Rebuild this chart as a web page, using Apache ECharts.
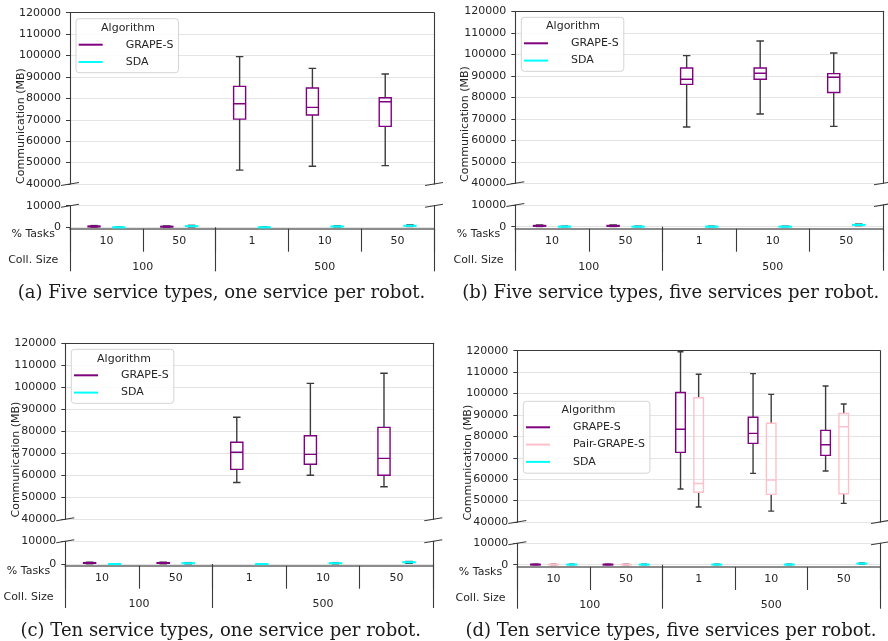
<!DOCTYPE html>
<html><head><meta charset="utf-8">
<script src="https://cdn.jsdelivr.net/npm/echarts@6/dist/echarts.min.js"></script>
<style>html,body{margin:0;padding:0;background:#fff}#c{width:888px;height:641px}</style>
</head><body><div id="c"></div><script>
// ---------- data ----------
const innerCategories = ['10', '50', '1', '10', '50'];   // % Tasks
const outerGroups = ['100', '500'];                      // Coll. Size
const outerSpans = [2, 3];
const topAxis = { min: 40000, max: 120000, interval: 10000 };
const bottomAxis = { min: 0, max: 10000, interval: 10000 };
const algorithmColors = { 'GRAPE-S': '#800080', 'Pair-GRAPE-S': '#ffc0cb', 'SDA': '#00ffff' };
const captions = [
  '(a) Five service types, one service per robot.',
  '(b) Five service types, five services per robot.',
  '(c) Ten service types, one service per robot.',
  '(d) Ten service types, five services per robot.'
];
// each box: [min, q1, median, q3, max]
const a_GRAPE_S = [[100, 250, 400, 550, 800], [100, 200, 300, 450, 650], [46500, 70300, 77500, 85600, 99500], [48300, 72200, 75800, 84800, 94000], [48600, 66900, 78400, 80300, 91400]];
const a_SDA = [[0, 30, 60, 100, 150], [200, 400, 500, 650, 900], [0, 30, 60, 100, 150], [200, 300, 400, 500, 650], [400, 600, 700, 850, 1100]];
const b_GRAPE_S = [[100, 250, 400, 550, 800], [100, 250, 400, 550, 800], [66200, 86000, 88400, 93600, 99400], [72200, 88400, 91200, 93600, 106200], [66500, 82200, 89300, 91000, 100600]];
const b_SDA = [[0, 50, 100, 150, 250], [0, 50, 100, 150, 250], [0, 50, 100, 150, 250], [0, 50, 100, 150, 250], [500, 700, 850, 1000, 1200]];
const c_GRAPE_S = [[100, 300, 450, 600, 800], [100, 300, 450, 600, 800], [56700, 62700, 70500, 75000, 86400], [60000, 65000, 69500, 78000, 101800], [54800, 60000, 67700, 81800, 106400]];
const c_SDA = [[0, 20, 50, 80, 120], [100, 250, 350, 450, 600], [0, 20, 50, 80, 120], [100, 250, 350, 450, 600], [300, 600, 750, 900, 1100]];
const d_GRAPE_S = [[0, 60, 120, 180, 250], [0, 60, 120, 180, 250], [55400, 72500, 83300, 100500, 119500], [62700, 76700, 81400, 88900, 109300], [63800, 71100, 76100, 82800, 103500]];
const d_PAIR_GRAPE_S = [[0, 60, 120, 180, 250], [0, 60, 120, 180, 250], [47000, 53900, 58000, 98000, 109000], [45100, 52900, 59600, 86100, 99600], [48700, 53200, 84500, 90700, 95100]];
const d_SDA = [[0, 60, 120, 180, 250], [0, 60, 120, 180, 250], [0, 60, 120, 180, 250], [0, 60, 120, 180, 250], [300, 450, 550, 650, 800]];

const panelSeries = [
  [['GRAPE-S', a_GRAPE_S], ['SDA', a_SDA]],
  [['GRAPE-S', b_GRAPE_S], ['SDA', b_SDA]],
  [['GRAPE-S', c_GRAPE_S], ['SDA', c_SDA]],
  [['GRAPE-S', d_GRAPE_S], ['Pair-GRAPE-S', d_PAIR_GRAPE_S], ['SDA', d_SDA]]
];

// ---------- layout (pixels) ----------
const panelLayouts = [
  { l: 70, r: 434, t: 12.7, tb: 184, bt: 205.7, z: 227.3, ax: 228.7, legend: [76, 18.7], legTitle: [128, 27.7], ylab: [20.7, 126], cap: [221.5, 293] },
  { l: 515.3, r: 883, t: 11.3, tb: 183.3, bt: 205, z: 226.7, ax: 228.7, legend: [521.3, 17.3], legTitle: [573, 26], ylab: [464.7, 124], cap: [670.7, 293] },
  { l: 65.3, r: 433.3, t: 343.3, tb: 519.3, bt: 541.3, z: 564, ax: 565.7, legend: [71.3, 349.3], legTitle: [124, 358.7], ylab: [16, 459.6], cap: [220.7, 631] },
  { l: 517.3, r: 880, t: 350.7, tb: 522, bt: 543.3, z: 564.7, ax: 567, legend: [523.3, 401.3], legTitle: [588.5, 410], ylab: [468, 462.7], cap: [671, 631] }
];

const SANS = 'DejaVu Sans';
const TXT = '#262626';
const SPINE = '#3a3a3a';
const GRIDC = '#e4e4e4';

function boxRenderer(offsetFrac, widthFrac, color, range) {
  return function (params, api) {
    const i = api.value(0);
    const v = [1, 2, 3, 4, 5].map(d => api.value(d));
    if (v[3] < range[0] || v[1] > range[1]) return null;
    const band = api.size([1, 0])[0];
    const cx = api.coord([i, 0])[0] + offsetFrac * band;
    const w = widthFrac * band;
    const y = v.map(val => api.coord([i, val])[1]);
    const capW = w * 0.62;
    const wh = { stroke: '#3b3b3b', lineWidth: 1.4 };
    return {
      type: 'group', children: [
        { type: 'line', shape: { x1: cx, y1: y[0], x2: cx, y2: y[1] }, style: wh },
        { type: 'line', shape: { x1: cx, y1: y[3], x2: cx, y2: y[4] }, style: wh },
        { type: 'line', shape: { x1: cx - capW / 2, y1: y[0], x2: cx + capW / 2, y2: y[0] }, style: wh },
        { type: 'line', shape: { x1: cx - capW / 2, y1: y[4], x2: cx + capW / 2, y2: y[4] }, style: wh },
        { type: 'rect', shape: { x: cx - w / 2, y: y[3], width: w, height: Math.max(y[1] - y[3], 0.6) }, style: { fill: 'none', stroke: color, lineWidth: 1.4 } },
        { type: 'line', shape: { x1: cx - w / 2, y1: y[2], x2: cx + w / 2, y2: y[2] }, style: { stroke: color, lineWidth: 1.4 } }
      ]
    };
  };
}

const outerBounds = [0];
outerSpans.forEach(s => outerBounds.push(outerBounds[outerBounds.length - 1] + s));
const outerCenters = outerSpans.map((s, k) => outerBounds[k] + s / 2);
const plainNum = v => String(v);

const grids = [], xAxes = [], yAxes = [], series = [], legends = [], graphics = [];

panelLayouts.forEach((L, p) => {
  const W = L.r - L.l;
  const gTop = grids.length;
  grids.push({ left: L.l, top: L.t, width: W, height: L.tb - L.t });
  grids.push({ left: L.l, top: L.bt, width: W, height: L.z - L.bt });
  const gBot = gTop + 1;
  const off = L.ax - L.z;

  const xTop = xAxes.length;
  xAxes.push({ type: 'category', gridIndex: gTop, data: innerCategories, position: 'top',
    axisLine: { show: true, onZero: false, lineStyle: { color: SPINE, width: 1.1 } },
    axisTick: { show: false }, axisLabel: { show: false }, splitLine: { show: false } });
  const xBot = xAxes.length;
  xAxes.push({ type: 'category', gridIndex: gBot, data: innerCategories, position: 'bottom', offset: off,
    axisLine: { show: true, onZero: false, lineStyle: { color: '#8c8c8c', width: 1.8 } },
    axisTick: { show: true, interval: 0, alignWithLabel: false, length: 23, lineStyle: { color: SPINE, width: 1.1 } },
    axisLabel: { show: true, interval: 0, margin: 7, color: TXT, fontFamily: SANS, fontSize: 11 },
    splitLine: { show: false } });
  xAxes.push({ type: 'value', gridIndex: gBot, min: 0, max: innerCategories.length, position: 'bottom', offset: off,
    axisLine: { show: false },
    axisTick: { show: true, customValues: outerBounds, length: 44, lineStyle: { color: SPINE, width: 1.1 } },
    axisLabel: { show: true, customValues: outerCenters, margin: 33, color: TXT, fontFamily: SANS, fontSize: 11,
      formatter: v => outerGroups[outerCenters.indexOf(v)] },
    splitLine: { show: false } });

  const yTop = yAxes.length;
  yAxes.push({ type: 'value', gridIndex: gTop, min: topAxis.min, max: topAxis.max, interval: topAxis.interval,
    axisLine: { show: true, onZero: false, lineStyle: { color: SPINE, width: 1.1 } },
    axisTick: { show: true, length: 4, lineStyle: { color: SPINE } },
    axisLabel: { margin: 9, color: TXT, fontFamily: SANS, fontSize: 11, formatter: plainNum },
    splitLine: { show: true, lineStyle: { color: GRIDC, width: 1 } } });
  yAxes.push({ type: 'value', gridIndex: gTop, min: topAxis.min, max: topAxis.max, interval: topAxis.interval, position: 'right',
    axisLine: { show: true, onZero: false, lineStyle: { color: SPINE, width: 1.1 } },
    axisTick: { show: false }, axisLabel: { show: false }, splitLine: { show: false } });
  const yBot = yAxes.length;
  yAxes.push({ type: 'value', gridIndex: gBot, min: bottomAxis.min, max: bottomAxis.max, interval: bottomAxis.interval,
    axisLine: { show: true, onZero: false, lineStyle: { color: SPINE, width: 1.1 } },
    axisTick: { show: true, length: 4, lineStyle: { color: SPINE } },
    axisLabel: { margin: 9, color: TXT, fontFamily: SANS, fontSize: 11, formatter: plainNum },
    splitLine: { show: true, lineStyle: { color: GRIDC, width: 1 } } });
  yAxes.push({ type: 'value', gridIndex: gBot, min: bottomAxis.min, max: bottomAxis.max, interval: bottomAxis.interval, position: 'right',
    axisLine: { show: true, onZero: false, lineStyle: { color: SPINE, width: 1.1 } },
    axisTick: { show: false }, axisLabel: { show: false }, splitLine: { show: false } });

  const algs = panelSeries[p];
  const n = algs.length;
  const step = n === 2 ? 0.34 : 0.25;
  const bw = n === 2 ? 0.165 : 0.132;
  algs.forEach(([name, boxes], k) => {
    const offFrac = (k - (n - 1) / 2) * step;
    const color = algorithmColors[name];
    const data = boxes.map((b, i) => [i].concat(b));
    series.push({ type: 'custom', name, xAxisIndex: xTop, yAxisIndex: yTop, data,
      encode: { x: 0, y: [1, 2, 3, 4, 5] }, itemStyle: { color }, clip: true,
      renderItem: boxRenderer(offFrac, bw, color, [topAxis.min, topAxis.max]) });
    series.push({ type: 'custom', name, xAxisIndex: xBot, yAxisIndex: yBot, data,
      encode: { x: 0, y: [1, 2, 3, 4, 5] }, itemStyle: { color }, clip: false,
      renderItem: boxRenderer(offFrac, bw, color, [bottomAxis.min, bottomAxis.max]) });
  });

  legends.push({ orient: 'vertical', left: L.legend[0], top: L.legend[1],
    padding: [19, 5, n === 2 ? 3.7 : 4.3, 2.7], itemWidth: 24, itemHeight: 2, itemGap: 3.3, icon: 'rect',
    backgroundColor: 'rgba(255,255,255,0.85)', borderColor: '#d4d4d4', borderWidth: 1, borderRadius: 3,
    selectedMode: false,
    textStyle: { fontFamily: SANS, fontSize: 11, color: TXT, padding: [0, 0, 0, 18], lineHeight: 14 },
    data: algs.map(([name]) => ({ name, icon: 'rect', itemStyle: { color: algorithmColors[name] } })) });

  graphics.push({ type: 'text', x: L.legTitle[0], y: L.legTitle[1], z: 100,
    style: { text: 'Algorithm', fontFamily: SANS, fontSize: 11, fill: TXT, textAlign: 'center', textVerticalAlign: 'middle' } });
  graphics.push({ type: 'text', x: L.ylab[0], y: L.ylab[1], rotation: Math.PI / 2, z: 100,
    style: { text: 'Communication (MB)', fontFamily: SANS, fontSize: 11, fill: TXT, textAlign: 'center', textVerticalAlign: 'middle' } });
  graphics.push({ type: 'text', x: L.l - 36.8, y: L.ax + 5.3, z: 100,
    style: { text: '% Tasks', fontFamily: SANS, fontSize: 11, fill: TXT, textAlign: 'center', textVerticalAlign: 'middle' } });
  graphics.push({ type: 'text', x: L.l - 36.8, y: L.ax + 31.5, z: 100,
    style: { text: 'Coll. Size', fontFamily: SANS, fontSize: 11, fill: TXT, textAlign: 'center', textVerticalAlign: 'middle' } });
  graphics.push({ type: 'text', x: L.cap[0], y: L.cap[1], z: 100,
    style: { text: captions[p], fontFamily: 'DejaVu Serif', fontSize: 18, fill: '#1a1a1a', textAlign: 'center', textVerticalAlign: 'middle' } });
  [L.l, L.r].forEach(x => {
    [L.tb, L.bt].forEach(y => {
      graphics.push({ type: 'line', z: 100, shape: { x1: x - 9, y1: y + 1.5, x2: x + 9, y2: y - 1.5 },
        style: { stroke: SPINE, lineWidth: 1.1 } });
    });
  });
});

const chart = echarts.init(document.getElementById('c'), null, { renderer: 'canvas' });
chart.setOption({
  animation: false,
  backgroundColor: '#fff',
  grid: grids, xAxis: xAxes, yAxis: yAxes, series, legend: legends, graphic: graphics
});
</script></body></html>
